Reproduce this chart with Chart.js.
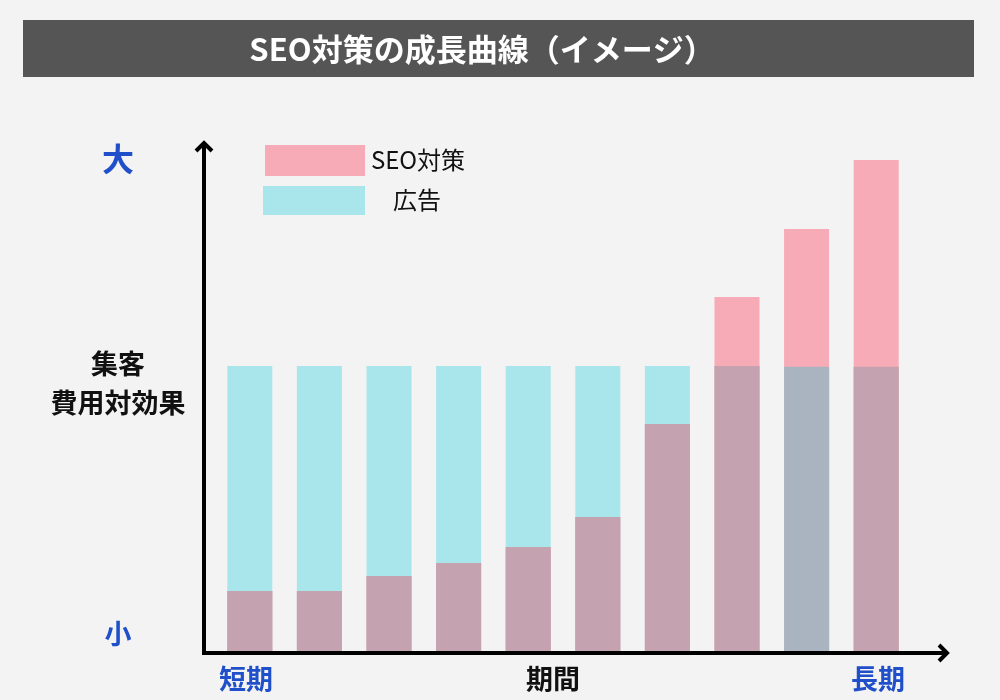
<!DOCTYPE html>
<html lang="ja">
<head>
<meta charset="utf-8">
<script src="https://cdn.jsdelivr.net/npm/chart.js@4.4.1/dist/chart.umd.min.js"></script>
<style>
  html, body { margin: 0; padding: 0; background: #f3f3f3; }
  #wrap { width: 1000px; height: 700px; position: relative; }
</style>
</head>
<body>
<div id="wrap"><canvas id="c" width="1000" height="700"></canvas></div>
<script>
// ---- data ----
const categories = ['1', '2', '3', '4', '5', '6', '7', '8', '9', '10'];
const seoValues = [21.3, 21.3, 26.6, 31.1, 36.7, 47.2, 79.7, 124.1, 147.9, 172.0];
const adValues  = [100, 100, 100, 100, 100, 100, 100, 100, 99.7, 99.7];
const seriesLabels = ['SEO対策', '広告'];
const titleText = 'SEO対策の成長曲線（イメージ）';
const yTopLabel = '大';
const yBottomLabel = '小';
const yAxisLabel = ['集客', '費用対効果'];
const xLabels = ['短期', '期間', '長期'];

// overlap part (where both series are present)
const overlapValues = seoValues.map((v, i) => Math.min(v, adValues[i]));

const FONT = '"Noto Sans CJK JP", "Noto Sans", sans-serif';
const PINK = '#f7abb6';
const CYAN = '#a9e6ec';
const MAUVE = '#c4a2b0';
const GRAYBLUE = '#aab3c0';
const BLUE = '#1f4fc9';

const decor = {
  id: 'decor',
  beforeDraw(chart) {
    const ctx = chart.ctx;
    ctx.save();
    ctx.fillStyle = '#f3f3f3';
    ctx.fillRect(0, 0, chart.width, chart.height);
    // title bar
    ctx.fillStyle = '#555555';
    ctx.fillRect(23, 20, 951, 57);
    ctx.fillStyle = '#ffffff';
    ctx.font = 'bold 31px ' + FONT;
    ctx.textAlign = 'center';
    ctx.textBaseline = 'middle';
    ctx.fillText(titleText, 482, 49);
    ctx.restore();
  },
  afterDatasetsDraw(chart) {
    const ctx = chart.ctx;
    const a = chart.chartArea;
    const x0 = a.left - 11, y0 = a.bottom + 1;
    ctx.save();
    ctx.strokeStyle = '#000';
    ctx.lineWidth = 4;
    ctx.lineCap = 'butt';
    ctx.lineJoin = 'miter';
    // y axis
    ctx.beginPath();
    ctx.moveTo(x0, y0 + 2);
    ctx.lineTo(x0, 143);
    ctx.stroke();
    ctx.beginPath();
    ctx.moveTo(x0 - 8, 151);
    ctx.lineTo(x0, 143);
    ctx.lineTo(x0 + 8, 151);
    ctx.stroke();
    // x axis
    ctx.beginPath();
    ctx.moveTo(x0 - 2, y0);
    ctx.lineTo(947, y0);
    ctx.stroke();
    ctx.beginPath();
    ctx.moveTo(939, y0 - 8);
    ctx.lineTo(947, y0);
    ctx.lineTo(939, y0 + 8);
    ctx.stroke();

    // axis texts
    ctx.textAlign = 'center';
    ctx.textBaseline = 'middle';
    ctx.fillStyle = BLUE;
    ctx.font = 'bold 32px ' + FONT;
    ctx.fillText(yTopLabel, 118, 159);
    ctx.font = 'bold 27px ' + FONT;
    ctx.fillText(yBottomLabel, 118, 634);
    ctx.fillStyle = '#111';
    ctx.font = 'bold 27px ' + FONT;
    ctx.fillText(yAxisLabel[0], 118, 364);
    ctx.fillText(yAxisLabel[1], 118, 403);
    ctx.font = 'bold 27px ' + FONT;
    ctx.fillStyle = BLUE;
    ctx.fillText(xLabels[0], 246, 679);
    ctx.fillText(xLabels[2], 878, 679);
    ctx.fillStyle = '#111';
    ctx.fillText(xLabels[1], 553, 679);

    // legend
    const ds = chart.data.datasets;
    ctx.fillStyle = ds[1].backgroundColor;
    ctx.fillRect(265, 145, 100, 31);
    ctx.fillStyle = ds[0].backgroundColor;
    ctx.fillRect(263, 186, 102, 29);
    ctx.fillStyle = '#111';
    ctx.font = '24px ' + FONT;
    ctx.fillText(ds[1].label, 418, 160);
    ctx.fillText(ds[0].label, 417, 200);
    ctx.restore();
  }
};

new Chart(document.getElementById('c'), {
  type: 'bar',
  data: {
    labels: categories,
    datasets: [
      { label: seriesLabels[1], data: adValues, backgroundColor: CYAN, order: 3 },
      { label: seriesLabels[0], data: seoValues, backgroundColor: PINK, order: 2 },
      { label: 'overlap', data: overlapValues,
        backgroundColor: (c) => (c.dataIndex === 8 ? GRAYBLUE : MAUVE), order: 1 }
    ]
  },
  options: {
    responsive: false,
    animation: false,
    events: [],
    layout: { padding: { left: 215, right: 89, top: 160, bottom: 48 } },
    datasets: { bar: { grouped: false, barPercentage: 1, categoryPercentage: 0.647, borderWidth: 0 } },
    scales: {
      x: { display: false, offset: true, grid: { display: false } },
      y: { display: false, min: 0, max: 172, grid: { display: false } }
    },
    plugins: {
      legend: { display: false },
      title: { display: false },
      tooltip: { enabled: false }
    }
  },
  plugins: [decor]
});
</script>
</body>
</html>
